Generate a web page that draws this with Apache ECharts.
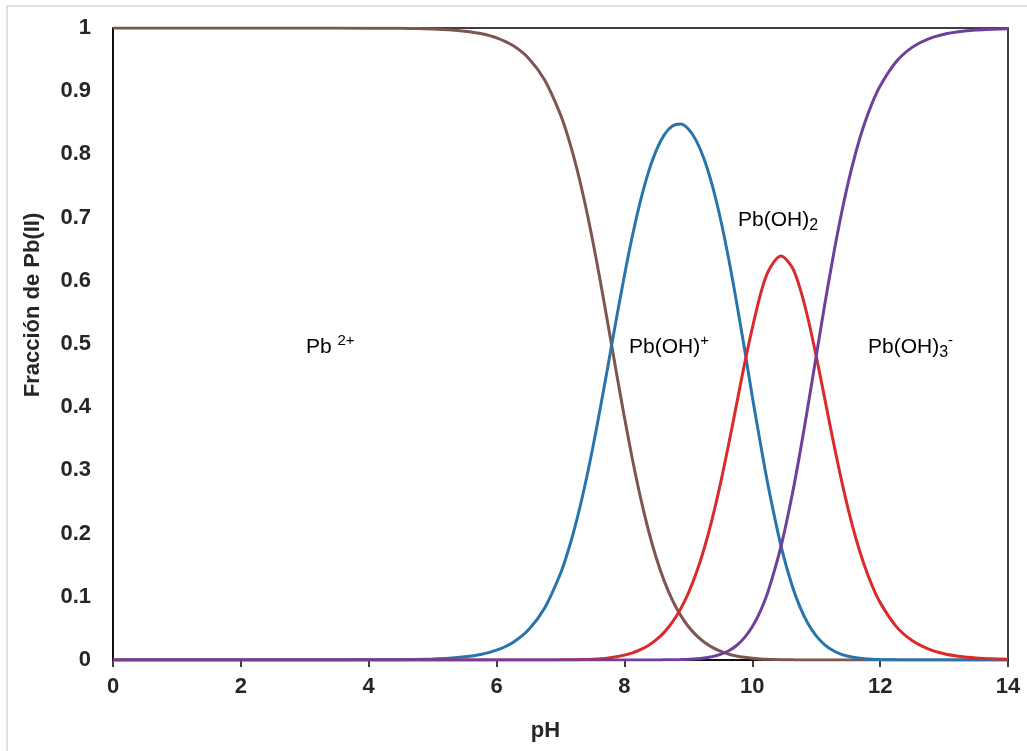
<!DOCTYPE html>
<html>
<head>
<meta charset="utf-8">
<script src="https://cdn.jsdelivr.net/npm/echarts@6/dist/echarts.min.js"></script>
<style>
  html, body { margin: 0; padding: 0; background: #fff; }
  #chart { width: 1027px; height: 751px; }
</style>
</head>
<body>
<div id="chart"></div>
<script>
const phValues = [0, 1, 2, 3,
  4, 4.25, 4.5, 4.75, 5, 5.25, 5.5, 5.75, 6, 6.25, 6.5, 6.75,
  7, 7.125, 7.25, 7.375, 7.5, 7.625, 7.75, 7.875, 8, 8.125,
  8.25, 8.375, 8.5, 8.625, 8.75, 8.875, 9, 9.125, 9.25, 9.375,
  9.5, 9.625, 9.75, 9.875, 10, 10.125, 10.25, 10.45, 10.625,
  10.75, 10.875, 11, 11.125, 11.25, 11.375, 11.5, 11.625, 11.75, 11.875,
  12,
  12.25, 12.5, 12.75, 13, 13.25, 13.5, 13.75, 14];

const pb2 = [1, 1, 1, 1,
  0.9998, 0.9997, 0.9995, 0.9991, 0.9984, 0.9972, 0.9950, 0.9912, 0.9844, 0.9726, 0.9523, 0.9181,
  0.8630, 0.8253, 0.7797, 0.7262, 0.6653, 0.5981, 0.5270, 0.4546, 0.3839, 0.3176,
  0.2576, 0.2053, 0.1610, 0.1244, 0.0948, 0.0714, 0.0530, 0.0389, 0.0281, 0.0200,
  0.0140, 0.0095, 0.0064, 0.0042, 0.0026, 0.0016, 0.0010, 0.0004, 0.0002,
  0.0001, 0.0001, 0, 0, 0, 0, 0, 0, 0, 0,
  0,
  0, 0, 0, 0, 0, 0, 0, 0];

const pbOH = [0, 0, 0, 0,
  0.0002, 0.0003, 0.0005, 0.0009, 0.0016, 0.0028, 0.0050, 0.0088, 0.0156, 0.0274, 0.0477, 0.0818,
  0.1368, 0.1744, 0.2198, 0.2730, 0.3334, 0.3998, 0.4697, 0.5403, 0.6084, 0.6712,
  0.7261, 0.7716, 0.8068, 0.8313, 0.8450, 0.8480, 0.8402, 0.8214, 0.7916, 0.7506,
  0.6990, 0.6377, 0.5685, 0.4943, 0.4171, 0.3440, 0.2747, 0.1802, 0.1170,
  0.0829, 0.0571, 0.0382, 0.0249, 0.0158, 0.0098, 0.0060, 0.0036, 0.0021, 0.0012,
  0.0007,
  0.0002, 0.0001, 0, 0, 0, 0, 0, 0];

const pbOH2 = [0, 0, 0, 0,
  0, 0, 0, 0, 0, 0, 0, 0, 0, 0, 0, 0.0001,
  0.0002, 0.0003, 0.0005, 0.0008, 0.0013, 0.0021, 0.0033, 0.0051, 0.0077, 0.0113,
  0.0163, 0.0230, 0.0321, 0.0441, 0.0598, 0.0801, 0.1058, 0.1379, 0.1772, 0.2241,
  0.2783, 0.3385, 0.4025, 0.4666, 0.5251, 0.5774, 0.6150, 0.6393, 0.6210,
  0.5869, 0.5388, 0.4809, 0.4179, 0.3542, 0.2937, 0.2388, 0.1910, 0.1507, 0.1175,
  0.0908,
  0.0532, 0.0307, 0.0175, 0.0099, 0.0056, 0.0032, 0.0018, 0.0010];

const pbOH3 = [0, 0, 0, 0,
  0, 0, 0, 0, 0, 0, 0, 0, 0, 0, 0, 0,
  0, 0, 0, 0, 0, 0, 0, 0, 0, 0,
  0, 0.0001, 0.0001, 0.0002, 0.0003, 0.0006, 0.0011, 0.0018, 0.0032, 0.0053,
  0.0088, 0.0143, 0.0226, 0.0350, 0.0525, 0.0770, 0.1094, 0.1802, 0.2619,
  0.3301, 0.4041, 0.4809, 0.5572, 0.6299, 0.6965, 0.7552, 0.8054, 0.8472, 0.8812,
  0.9084,
  0.9465, 0.9693, 0.9825, 0.9901, 0.9944, 0.9969, 0.9982, 0.9990];

const xTicks = [0, 2, 4, 6, 8, 10, 12, 14];

const font = "'Liberation Sans', Arial, sans-serif";

function pairs(values) {
  return phValues.map((x, i) => [x, values[i]]);
}

function curve(name, values, color) {
  return {
    name: name,
    type: 'line',
    data: pairs(values),
    smooth: 0.3,
    showSymbol: false,
    lineStyle: { color: color, width: 3 },
    itemStyle: { color: color }
  };
}

function speciesLabel(x, y, rich) {
  return {
    type: 'text',
    x: x,
    y: y,
    style: {
      text: rich,
      fill: '#000',
      font: '21px ' + font,
      verticalAlign: 'middle',
      rich: {
        n: { fontSize: 21, fontFamily: font, lineHeight: 28, fill: '#000', verticalAlign: 'middle' },
        sup: { fontSize: 15, fontFamily: font, lineHeight: 28, fill: '#000', verticalAlign: 'top' },
        sub: { fontSize: 16, fontFamily: font, lineHeight: 28, fill: '#000', verticalAlign: 'bottom' }
      }
    }
  };
}

let chart = echarts.init(document.getElementById('chart'));
chart.setOption({
  animation: false,
  backgroundColor: '#fff',
  textStyle: { fontFamily: font },
  grid: {
    left: 113, top: 28, right: 19, bottom: 91,
    show: true, borderColor: '#000', borderWidth: 1.5
  },
  xAxis: {
    type: 'value',
    min: xTicks[0],
    max: xTicks[xTicks.length - 1],
    interval: 2,
    name: 'pH',
    nameLocation: 'middle',
    nameGap: 60,
    nameTextStyle: { fontSize: 22, fontWeight: 'bold', color: '#262626', padding: [0, 30, 0, 0] },
    axisLine: { lineStyle: { color: '#000', width: 1.5 } },
    axisTick: { show: true, inside: false, length: 7, lineStyle: { color: '#000', width: 1.5 } },
    axisLabel: { fontSize: 22, fontWeight: 'bold', color: '#262626', margin: 16 },
    splitLine: { show: false }
  },
  yAxis: {
    type: 'value',
    min: 0,
    max: 1,
    interval: 0.1,
    axisLine: { show: true, lineStyle: { color: '#000', width: 1.5 } },
    axisTick: { show: false },
    axisLabel: { fontSize: 22, fontWeight: 'bold', color: '#262626', margin: 22 },
    splitLine: { show: false }
  },
  graphic: [
    {
      type: 'rect',
      shape: { x: 7, y: 6, width: 1100, height: 800 },
      style: { fill: 'none', stroke: '#d9d9d9', lineWidth: 1.5 },
      silent: true
    },
    {
      type: 'text',
      x: 33,
      y: 305,
      rotation: Math.PI / 2,
      style: {
        text: 'Fracción de Pb(II)',
        fill: '#262626',
        font: 'bold 22px ' + font,
        align: 'center',
        verticalAlign: 'middle'
      }
    },
    speciesLabel(306, 347, '{n|Pb }{sup|2+}'),
    speciesLabel(629, 347, '{n|Pb(OH)}{sup|+}'),
    speciesLabel(738, 220, '{n|Pb(OH)}{sub|2}'),
    speciesLabel(868, 347, '{n|Pb(OH)}{sub|3}{sup|-}')
  ],
  series: [
    curve('Pb2+', pb2, '#7d5652'),
    curve('Pb(OH)+', pbOH, '#2874ab'),
    curve('Pb(OH)2', pbOH2, '#d92a2c'),
    curve('Pb(OH)3-', pbOH3, '#6f3f9e')
  ]
});
window.addEventListener('resize', () => {
  chart.resize();
});
</script>
</body>
</html>
